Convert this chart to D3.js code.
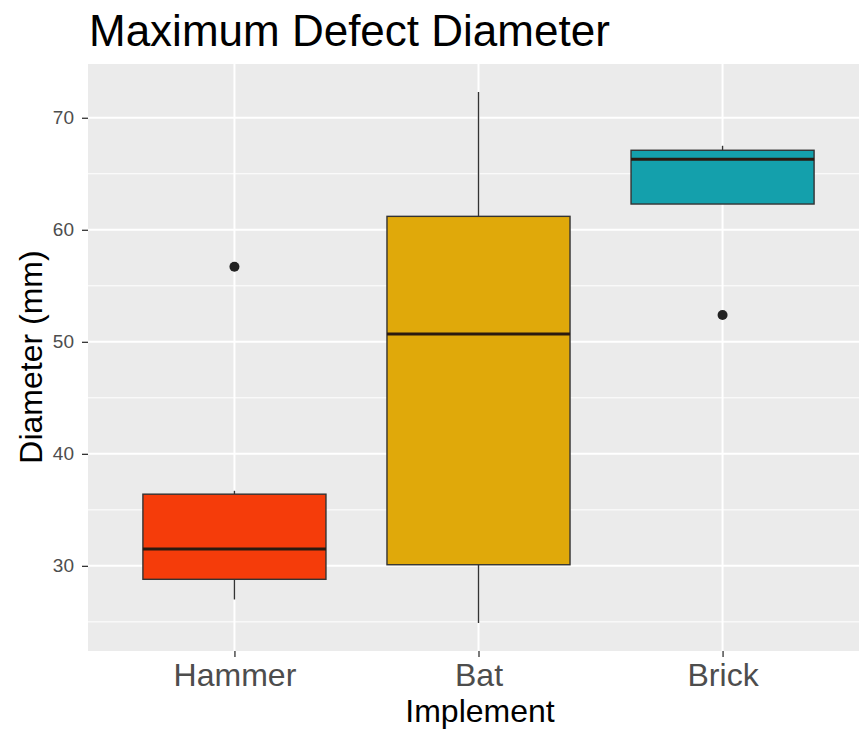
<!DOCTYPE html>
<html><head><meta charset="utf-8">
<script src="https://cdn.jsdelivr.net/npm/d3@7"></script>
<style>body{margin:0;background:#fff}svg{display:block}text{font-family:"Liberation Sans",Arial,sans-serif}</style>
</head><body><svg id="c" width="859" height="729"></svg>
<script>
const categories = ["Hammer", "Bat", "Brick"];
const colors = ["#F53C0A", "#E0A90A", "#14A0AC"];
const lowerWhisker = [27.0, 24.9, 62.3];
const q1 = [28.8, 30.1, 62.3];
const median = [31.5, 50.7, 66.3];
const q3 = [36.4, 61.2, 67.1];
const upperWhisker = [36.7, 72.3, 67.5];
const outliers = [[56.7], [], [52.4]];
const yTicks = [30, 40, 50, 60, 70];
const yMinor = [25, 35, 45, 55, 65];

const svg = d3.select("#c");
const L = 88, R = 869, T = 64, B = 651;
const y = d3.scaleLinear().domain([22.4, 74.8]).range([B, T]);
// discrete axis with 0.6-unit expansion each side
const unit = (R - L) / 3.2;
const xc = d3.scalePoint().domain(categories).range([L + unit * 0.6, R - unit * 0.6]);

svg.append("defs").append("clipPath").attr("id","clip").append("rect").attr("x",L).attr("y",T).attr("width",859-L).attr("height",B-T);
const g = svg.append("g").attr("clip-path","url(#clip)");
g.append("rect").attr("x",L).attr("y",T).attr("width",R-L).attr("height",B-T).attr("fill","#EBEBEB");
g.selectAll(".ymin").data(yMinor).join("line").attr("x1",L).attr("x2",R).attr("y1",d=>y(d)).attr("y2",d=>y(d)).attr("stroke","#fff").attr("stroke-width",1);
g.selectAll(".ymaj").data(yTicks).join("line").attr("x1",L).attr("x2",R).attr("y1",d=>y(d)).attr("y2",d=>y(d)).attr("stroke","#fff").attr("stroke-width",2);
g.selectAll(".xmaj").data(categories).join("line").attr("x1",d=>xc(d)).attr("x2",d=>xc(d)).attr("y1",T).attr("y2",B).attr("stroke","#fff").attr("stroke-width",2);

const bw = unit * 0.75;
categories.forEach((c,i)=>{
  const cx = xc(c);
  g.append("line").attr("x1",cx).attr("x2",cx).attr("y1",y(upperWhisker[i])).attr("y2",y(q3[i])).attr("stroke","#333").attr("stroke-width",1.4);
  g.append("line").attr("x1",cx).attr("x2",cx).attr("y1",y(q1[i])).attr("y2",y(lowerWhisker[i])).attr("stroke","#333").attr("stroke-width",1.4);
  g.append("rect").attr("x",cx-bw/2).attr("width",bw).attr("y",y(q3[i])).attr("height",y(q1[i])-y(q3[i])).attr("fill",colors[i]).attr("stroke","#333").attr("stroke-width",1.4);
  g.append("line").attr("x1",cx-bw/2).attr("x2",cx+bw/2).attr("y1",y(median[i])).attr("y2",y(median[i])).attr("stroke","#2a1a10").attr("stroke-width",3);
  outliers[i].forEach(o=>{
    g.append("circle").attr("cx",cx).attr("cy",y(o)).attr("r",5).attr("fill","#222");
  });
});

// y axis
const ya = svg.append("g").attr("transform",`translate(${L},0)`).call(d3.axisLeft(y).tickValues(yTicks).tickSize(6).tickPadding(8));
ya.select(".domain").remove();
ya.selectAll(".tick line").attr("stroke","#333").attr("stroke-width",1.3);
ya.selectAll("text").attr("fill","#4D4D4D").style("font-size","19px");
// x axis
const xa = svg.append("g").attr("transform",`translate(0,${B})`).call(d3.axisBottom(xc).tickSize(6).tickPadding(6));
xa.select(".domain").remove();
xa.selectAll(".tick line").attr("stroke","#333").attr("stroke-width",1.3);
xa.selectAll("text").attr("fill","#4D4D4D").style("font-size","32px").attr("dy","0.71em");

svg.append("text").attr("x",480).attr("y",722).attr("text-anchor","middle").style("font-size","32px").attr("fill","#000").text("Implement");
svg.append("text").attr("transform","translate(42,357) rotate(-90)").attr("text-anchor","middle").style("font-size","32px").attr("fill","#000").text("Diameter (mm)");
svg.append("text").attr("x",89).attr("y",46).style("font-size","44px").attr("fill","#000").text("Maximum Defect Diameter");
</script></body></html>
